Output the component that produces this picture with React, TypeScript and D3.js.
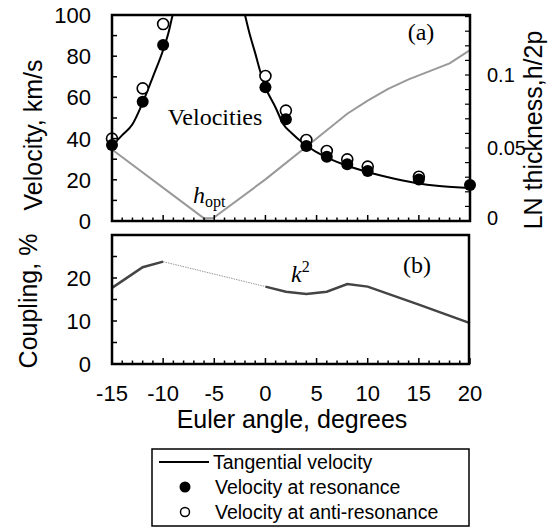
import React from "react";
import * as d3 from "d3";

// Euler angle (degrees) and measured velocities (km/s)
const resAngles = [-15, -12, -10, 0, 2, 4, 6, 8, 10, 15, 20];
const resVelocity = [36.9, 57.9, 85.4, 64.9, 49.4, 36.4, 31.2, 27.5, 24.3, 20.2, 17.5];
const antiAngles = [-15, -12, -10, 0, 2, 4, 6, 8, 10, 15];
const antiVelocity = [40, 64.4, 95.6, 70.4, 53.6, 39.3, 34, 29.9, 26.4, 21.5];

// Tangential velocity, two branches around the pole
const tangLeftAngles = [-15, -14, -13, -12, -11, -10, -9.5, -9.07, -8.8];
const tangLeftVelocity = [36.5, 41.7, 47, 57.5, 70, 83, 91, 100, 105];
const tangRightAngles = [-2.3, -2, -1.5, -1, -0.5, 0, 1, 1.75, 2.5, 3.9, 5.8, 7.8, 9.8, 12, 14.7, 17, 20];
const tangRightVelocity = [106, 100, 90, 81.5, 72.5, 65, 55, 47, 43, 37, 31.2, 27.2, 24, 21.2, 18.5, 17, 16];

// Optimal LN thickness h/2p
const hAngles = [-15, -6, -5.1, 0, 5, 8, 10, 12, 14, 16, 18, 20];
const hValues = [0.049, 0.0018, 0.002, 0.0285, 0.0565, 0.0735, 0.0825, 0.0905, 0.097, 0.1025, 0.108, 0.117];

// Coupling k^2 (%)
const kAnglesA = [-15, -12, -10];
const kValuesA = [17.7, 22.5, 23.8];
const kAnglesGap = [-10, 0];
const kValuesGap = [23.8, 18];
const kAnglesB = [0, 2, 4, 6, 8, 10, 15, 20];
const kValuesB = [18, 16.8, 16.3, 16.8, 18.6, 18, 13.8, 9.5];

const xTicks = [-15, -10, -5, 0, 5, 10, 15, 20];
const velTicks = [0, 20, 40, 60, 80, 100];
const hTicks = [0, 0.05, 0.1];
const hTickLabels = ["0", "0.05", "0.1"];
const kTicks = [0, 10, 20];

const legendLabels = ["Tangential velocity", "Velocity at resonance", "Velocity at anti-resonance"];

const SANS = "'Liberation Sans', Arial, sans-serif";
const SERIF = "'Liberation Serif', 'Times New Roman', serif";

const W = 554;
const H = 527;
const L = 112;
const R = 470;
const topA = 15;
const botA = 221;
const topB = 235;
const botB = 364;

export default function App() {
  const x = d3.scaleLinear().domain([-15, 20]).range([L, R]);
  const yV = d3.scaleLinear().domain([0, 100]).range([botA, topA]);
  const yH = d3.scaleLinear().domain([0, 0.1411]).range([botA, topA]);
  const yK = d3.scaleLinear().domain([0, 30]).range([botB, topB]);

  const pair = (xs: number[], ys: number[]) => xs.map((v, i) => [v, ys[i]] as [number, number]);

  const tangLine = d3
    .line<[number, number]>()
    .x((d) => x(d[0]))
    .y((d) => yV(d[1]))
    .curve(d3.curveMonotoneX);
  const hLine = d3
    .line<[number, number]>()
    .x((d) => x(d[0]))
    .y((d) => yH(d[1]));
  const kLine = d3
    .line<[number, number]>()
    .x((d) => x(d[0]))
    .y((d) => yK(d[1]));

  const minorX = d3.range(-15, 21, 1);

  const xTickMarks = (bottom: number) =>
    minorX.map((v) => {
      const major = v % 5 === 0;
      return (
        <line
          key={v}
          x1={x(v)}
          x2={x(v)}
          y1={bottom}
          y2={bottom - (major ? 6 : 3.5)}
          stroke="#000"
          strokeWidth={1.5}
        />
      );
    });

  return (
    <svg
      width={W}
      height={H}
      style={{ position: "absolute", left: 0, top: 0, background: "#fff" }}
    >
      <defs>
        <clipPath id="panelA">
          <rect x={L} y={topA} width={R - L} height={botA - topA} />
        </clipPath>
      </defs>

      {/* Panel (a): velocities and thickness */}
      <path d={hLine(pair(hAngles, hValues)) || ""} fill="none" stroke="#999" strokeWidth={2} />
      <g clipPath="url(#panelA)">
        <path d={tangLine(pair(tangLeftAngles, tangLeftVelocity)) || ""} fill="none" stroke="#000" strokeWidth={2} />
        <path d={tangLine(pair(tangRightAngles, tangRightVelocity)) || ""} fill="none" stroke="#000" strokeWidth={2} />
      </g>
      {antiAngles.map((a, i) => (
        <circle key={"o" + i} cx={x(a)} cy={yV(antiVelocity[i])} r={5.5} fill="#fff" stroke="#000" strokeWidth={1.6} />
      ))}
      {resAngles.map((a, i) => (
        <circle key={"f" + i} cx={x(a)} cy={yV(resVelocity[i])} r={6} fill="#000" />
      ))}

      {/* frame (a) */}
      <rect x={L} y={topA} width={R - L} height={botA - topA} fill="none" stroke="#000" strokeWidth={2.5} />
      {d3.range(10, 100, 10).map((v) => (
        <line key={v} x1={L} x2={L + 5} y1={yV(v)} y2={yV(v)} stroke="#000" strokeWidth={1.5} />
      ))}
      {d3.range(0.01, 0.141, 0.01).map((v, i) => (
        <line key={i} x1={R} x2={R - 5} y1={yH(v)} y2={yH(v)} stroke="#000" strokeWidth={1.2} />
      ))}
      {xTickMarks(botA)}
      {velTicks.map((v) => (
        <text key={v} x={91} y={yV(v)} dy="0.36em" textAnchor="end" fontFamily={SANS} fontSize={22}>
          {v}
        </text>
      ))}
      {hTicks.map((v, i) => (
        <text key={v} x={487} y={yH(v) - (v === 0 ? 3 : 0)} dy="0.36em" textAnchor="start" fontFamily={SANS} fontSize={20}>
          {hTickLabels[i]}
        </text>
      ))}
      <text transform="translate(42,135) rotate(-90)" textAnchor="middle" fontFamily={SANS} fontSize={25}>
        Velocity, km/s
      </text>
      <text transform="translate(542,130) rotate(-90)" textAnchor="middle" fontFamily={SANS} fontSize={25}>
        LN thickness,h/2p
      </text>
      <text x={215} y={125} textAnchor="middle" fontFamily={SERIF} fontSize={24}>
        Velocities
      </text>
      <text x={421} y={40} textAnchor="middle" fontFamily={SERIF} fontSize={24}>
        (a)
      </text>
      <text x={193} y={203} fontFamily={SERIF} fontSize={24} fontStyle="italic">
        h
        <tspan fontSize={16} fontStyle="normal" dy={4}>
          opt
        </tspan>
      </text>

      {/* Panel (b): coupling */}
      <path d={kLine(pair(kAnglesGap, kValuesGap)) || ""} fill="none" stroke="#999" strokeWidth={1} strokeDasharray="1.5,1" />
      <path d={kLine(pair(kAnglesA, kValuesA)) || ""} fill="none" stroke="#444" strokeWidth={2.5} />
      <path d={kLine(pair(kAnglesB, kValuesB)) || ""} fill="none" stroke="#444" strokeWidth={2.5} />
      <rect x={L} y={topB} width={R - 1 - L} height={botB - topB} fill="none" stroke="#000" strokeWidth={2.5} />
      {d3.range(5, 30, 5).map((v) => (
        <line key={v} x1={L} x2={L + 5} y1={yK(v)} y2={yK(v)} stroke="#000" strokeWidth={1.5} />
      ))}
      {xTickMarks(botB)}
      {kTicks.map((v) => (
        <text key={v} x={91} y={yK(v)} dy="0.36em" textAnchor="end" fontFamily={SANS} fontSize={22}>
          {v}
        </text>
      ))}
      {xTicks.map((v) => (
        <text key={v} x={x(v)} y={401} textAnchor="middle" fontFamily={SANS} fontSize={22}>
          {v}
        </text>
      ))}
      <text transform="translate(37,301) rotate(-90)" textAnchor="middle" fontFamily={SANS} fontSize={25}>
        Coupling,  %
      </text>
      <text x={292} y={428} textAnchor="middle" fontFamily={SANS} fontSize={25}>
        Euler angle, degrees
      </text>
      <text x={417} y={273} textAnchor="middle" fontFamily={SERIF} fontSize={24}>
        (b)
      </text>
      <text x={291} y={282} fontFamily={SERIF} fontSize={24} fontStyle="italic">
        k
        <tspan fontSize={16} fontStyle="normal" dy={-10}>
          2
        </tspan>
      </text>

      {/* Legend */}
      <rect x={152} y={449} width={317} height={77} fill="#fff" stroke="#000" strokeWidth={1.5} />
      <line x1={159} x2={209} y1={462} y2={462} stroke="#000" strokeWidth={2} />
      <circle cx={185} cy={487} r={5.5} fill="#000" />
      <circle cx={185} cy={512} r={4.5} fill="#fff" stroke="#000" strokeWidth={1.5} />
      {legendLabels.map((t, i) => (
        <text key={t} x={i === 0 ? 213 : 215} y={469 + i * 25} fontFamily={SANS} fontSize={19.5}>
          {t}
        </text>
      ))}
    </svg>
  );
}
